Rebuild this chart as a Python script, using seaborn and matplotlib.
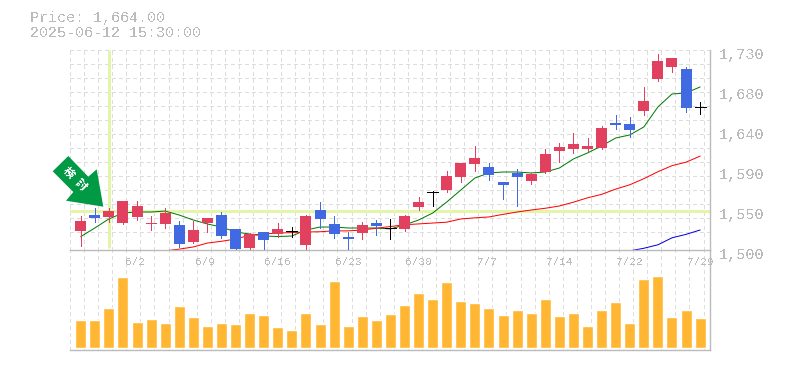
import numpy as np
import pandas as pd
import seaborn as sns
import matplotlib
matplotlib.use("Agg")
import matplotlib.pyplot as plt
from matplotlib.patches import Polygon
from matplotlib.transforms import ScaledTranslation

opens = [1522,1540,1538,1531,1538,1530,1530,1529,1509,1531,1540,1524,1502,1521,1518,1522,1506,1546,1530,1514,1520,1531,1525,1524,1549,1567,1569,1584,1599,1595,1578,1589,1579,1590,1614,1616,1616,1617,1646,1645,1660,1697,1710,1708,1664]
closes = [1533,1537,1545,1556,1551,1531,1543,1507,1523,1537,1516,1501,1518,1511,1524,1522,1539,1536,1518,1513,1529,1528,1525,1539,1555,1567,1585,1600,1606,1586,1575,1584,1587,1610,1618,1622,1620,1640,1644,1638,1671,1717,1721,1663,1664]
highs = [1539,1548,1548,1556,1556,1539,1548,1533,1533,1537,1544,1524,1520,1521,1531,1526,1540,1555,1539,1521,1532,1534,1536,1540,1561,1568,1591,1600,1620,1600,1578,1593,1589,1616,1623,1635,1629,1643,1655,1653,1687,1725,1721,1710,1670]
lows = [1505,1532,1532,1530,1534,1523,1525,1503,1508,1521,1514,1499,1499,1500,1515,1515,1501,1525,1514,1500,1513,1517,1513,1522,1546,1551,1567,1578,1591,1580,1559,1551,1576,1589,1601,1612,1614,1616,1639,1630,1655,1694,1705,1659,1656]
ma_short = [1515.3,1525.3,1535.7,1542.5,1543.7,1543.7,1544.8,1540.2,1534.5,1529.9,1526.4,1520.7,1518.4,1516.1,1515.5,1516.1,1523,1526.4,1526.4,1525.3,1525.3,1525.3,1524.2,1528.8,1534.5,1542.5,1555.2,1569,1582.8,1588.6,1589.7,1589.7,1588.6,1589.7,1594.3,1604.7,1611.6,1619.6,1628.8,1632.3,1641.5,1664.5,1679.4,1680.6,1687.5]
ma_mid = [1499,1501,1503.5,1508,1510,1512.6,1517,1518.4,1519.5,1520,1520.7,1521,1522,1522,1523,1525,1527,1529,1530,1531,1532,1535.7,1537,1538,1541,1543.7,1546,1548,1550.6,1555,1560,1564,1570,1575,1582,1590,1597,1601,1608]
ma_long = [1499,1502,1506,1514,1518,1523]
volumes = [28,28,40,70,26,29,25,42,31,22,25,24,35,33,21,18,35,24,66,22,32,28,34,43,54,48,65,47,45,40,33,38,35,48,32,35,22,38,46,25,68,71,31,38,30]
date_labels = ["6/2","6/9","6/16","6/23","6/30","7/7","7/14","7/22","7/29"]
date_index = [4,9,14,19,24,29,34,39,44]
price_labels = ["1,730","1,680","1,640","1,590","1,550","1,500"]
support_level = 1545
signal_index = 2

W, H = 785, 370
sns.set_theme(style="white")
plt.rcParams["font.family"] = ["Liberation Mono", "DejaVu Sans Mono"]
plt.rcParams["text.antialiased"] = False
plt.rcParams["path.snap"] = True

UP, DOWN, DOJI = "#E2405F", "#4169E1", "#000000"
GRID, FRAME, TXT = "#DDDDDD", "#BBBBBB", "#BBBBBB"
BAND = "#E3F5A6"
PX = 0.72

fig = plt.figure(figsize=(W / 100, H / 100), dpi=100, facecolor="white")
def rect(l, t, r, b):
    return [l / W, 1 - b / H, (r - l) / W, (b - t) / H]
ax = fig.add_axes(rect(70, 50, 710, 250))
vx = fig.add_axes(rect(70, 250, 710, 350), sharex=ax)

idx = np.arange(len(opens))
xmin, xmax = -0.76, 44.7
ymin, ymax = 1500, 1730
ax.set_xlim(xmin, xmax)
ax.set_ylim(ymin, ymax)

# grid
grid_x = np.arange(46) - 0.76
grid_y = ymax - 16.1 * np.arange(14)
dash = (0, (3, 3))
ax.vlines(grid_x, ymin, ymax, color=GRID, lw=PX, linestyle=dash, zorder=0, antialiased=False)
vx.vlines(grid_x, 0, 1, color=GRID, lw=PX, linestyle=dash, zorder=0, antialiased=False,
          transform=vx.get_xaxis_transform())
ax.hlines(grid_y, xmin, xmax, color=GRID, lw=PX, linestyle=dash, zorder=0, antialiased=False)
for a in (ax, vx):
    a.patch.set_alpha(0)

# signal bands
ax.axhline(support_level, color=BAND, lw=2.1, zorder=1)
ax.vlines(signal_index, 1502, ymax, color=BAND, lw=2.1, zorder=1)

# moving averages
ML = 0.72
sns.lineplot(x=idx, y=ma_short, ax=ax, color="#007A00", lw=ML, zorder=2, legend=False)
sns.lineplot(x=idx[-len(ma_mid):], y=ma_mid, ax=ax, color="#FF0000", lw=ML, zorder=2, legend=False)
sns.lineplot(x=idx[-len(ma_long):], y=ma_long, ax=ax, color="#0000E0", lw=ML, zorder=2, legend=False)

# candles
for i, o, c, h, l in zip(idx, opens, closes, highs, lows):
    col = DOJI if o == c else (UP if c > o else DOWN)
    ax.vlines(i, l, h, color=col, lw=PX, zorder=3, antialiased=False)
    if o == c:
        ax.hlines(o, i - 0.39, i + 0.39, color=col, lw=PX, zorder=3, antialiased=False)
    elif abs(c - o) <= 2:
        ax.bar(i, max(abs(c - o), 1.6), bottom=min(o, c), width=0.78, color=col, lw=0, zorder=3)
    else:
        ax.bar(i, abs(c - o), bottom=min(o, c), width=0.78, color=col, lw=0, zorder=3)

# volume
vol_df = pd.DataFrame({"i": idx, "v": volumes})
sns.barplot(data=vol_df, x="i", y="v", native_scale=True, width=0.78, color="#FFB733",
            saturation=1, ax=vx, zorder=2, legend=False)
vx.set_xlim(xmin, xmax)
vx.set_ylim(-2, 97)
vx.set_xlabel(""); vx.set_ylabel("")
ax.set_xlabel(""); ax.set_ylabel("")

# frames
for a in (ax, vx):
    for s in a.spines.values():
        s.set_visible(False)
    for n in ("right", "bottom"):
        a.spines[n].set_visible(True)
        a.spines[n].set_color(FRAME)
        a.spines[n].set_linewidth(1.0)

# ticks
vx.set_yticks([])
vx.tick_params(axis="x", length=0, labelbottom=False)
ax.tick_params(axis="x", length=0, labelbottom=True, pad=5, labelcolor=TXT, labelsize=8)
ax.set_xticks(date_index, date_labels)
for t, s in zip(ax.get_xticklabels(), date_labels):
    if len(s) == 3:
        t.set_transform(t.get_transform() + ScaledTranslation(-2 / 100, 0, fig.dpi_scale_trans))
ax.set_yticks(np.linspace(ymax, ymin, 6), price_labels)
ax.yaxis.tick_right()
ax.tick_params(axis="y", length=0, pad=6.5, labelcolor=TXT, labelsize=11)
for t in ax.get_yticklabels():
    t.set_transform(t.get_transform() + ScaledTranslation(0, -3 / 100, fig.dpi_scale_trans))
ax.set_zorder(3)
vx.set_zorder(2)

# header
fig.text(30 / W, 1 - 22 / H, "Price: 1,664.00", color=TXT, fontsize=10.8, ha="left", va="baseline")
fig.text(30 / W, 1 - 37 / H, "2025-06-12 15:30:00", color=TXT, fontsize=10.8, ha="left", va="baseline")

# signal arrow
arrow_px = [(68.3,156),(52.7,171.3),(73.3,192),(66,200.7),(103.3,206.7),(96.7,169.3),(88.3,176.7)]
fig.add_artist(Polygon([(x / W, 1 - y / H) for x, y in arrow_px], closed=True, facecolor="#009A44",
                       edgecolor="none", transform=fig.transFigure, zorder=8))
for ch, (cx, cy) in zip("検討", [(68.7, 173), (80.7, 185)]):
    fig.text(cx / W, 1 - cy / H, ch, color="white", fontsize=8, fontweight="bold", rotation=-45,
             ha="center", va="center", family=["Noto Sans CJK JP", "DejaVu Sans"], zorder=9)

fig.savefig("out.png", dpi=100, facecolor="white")
